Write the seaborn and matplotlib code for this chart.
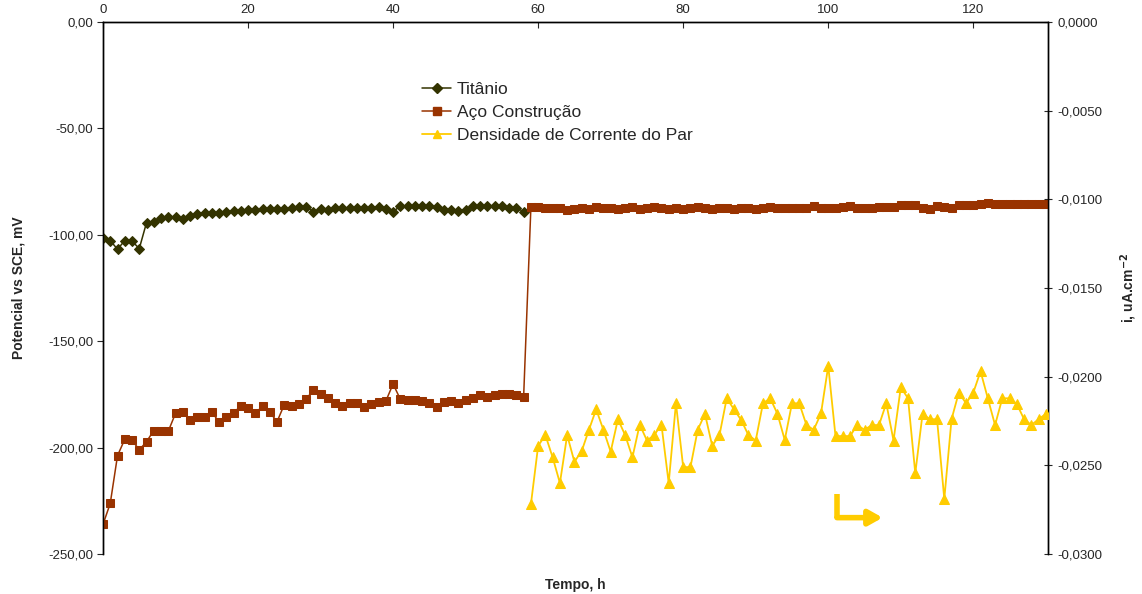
import numpy as np
import pandas as pd
import matplotlib
matplotlib.use("Agg")
import matplotlib.pyplot as plt
from matplotlib.ticker import FuncFormatter, MultipleLocator
from matplotlib.lines import Line2D
import seaborn as sns

sns.set_style("white")
plt.rcParams['font.family'] = ['Liberation Sans', 'DejaVu Sans']

# ---------------- data ----------------
t_titanio = list(range(0, 59))
titanio = [-101.7, -102.7, -106.8, -102.7, -102.9, -106.5, -94.3, -93.8, -92.3, -91.8,
           -91.8, -92.6, -91.2, -90.2, -89.6, -89.6, -89.6, -89.3, -88.8, -88.6,
           -88.3, -88.3, -88.0, -88.0, -87.8, -87.7, -87.4, -87.0, -86.8, -89.1,
           -88.0, -88.3, -87.6, -87.6, -87.6, -87.6, -87.4, -87.2, -86.8, -88.0,
           -89.1, -86.5, -86.5, -86.5, -86.5, -86.5, -86.8, -88.3, -88.3, -88.8,
           -88.3, -86.5, -86.5, -86.5, -86.5, -86.5, -87.3, -87.3, -89.1]

t_aco = list(range(0, 131))
aco = [-236.1, -226.2, -203.8, -196.1, -196.4, -201.1, -197.2, -192.0, -192.3, -192.3,
       -183.9, -183.3, -187.0, -185.8, -185.5, -183.1, -188.1, -185.8, -183.6, -180.5,
       -181.2, -183.9, -180.5, -183.4, -187.8, -179.8, -180.3, -179.7, -177.3, -172.9,
       -175.0, -176.5, -178.9, -180.3, -179.2, -179.2, -180.8, -179.7, -178.4, -178.1,
       -170.1, -177.3, -177.8, -177.6, -178.1, -179.2, -180.8, -178.4, -178.0, -178.9,
       -177.6, -176.8, -175.3, -176.0, -175.5, -175.0, -175.0, -175.3, -176.0,
       # 59..93
       -87.0, -86.8, -87.5, -87.3, -87.6, -88.3, -87.8, -87.2, -88.0, -86.9,
       -87.2, -87.5, -88.0, -87.6, -86.8, -87.7, -87.3, -87.0, -87.6, -87.8,
       -87.4, -87.9, -87.3, -87.0, -87.6, -88.1, -87.3, -87.5, -87.9, -87.2,
       -87.6, -87.8, -87.4, -87.0, -87.3,
       # 94..130
       -87.6, -87.6, -87.5, -87.4, -86.6, -87.3, -87.6, -87.5, -86.9, -86.7,
       -87.5, -87.4, -87.2, -87.1, -86.9, -86.8, -86.2, -85.9, -86.0, -87.6,
       -88.0, -86.4, -86.9, -87.2, -86.0, -86.0, -85.9, -85.6, -85.0, -85.6,
       -85.7, -85.7, -85.6, -85.7, -85.6, -85.7, -85.6]

t_corr = list(range(59, 131))
corrente = [-0.0272, -0.0239, -0.0233, -0.02455, -0.0260, -0.0233, -0.0248, -0.0242, -0.0230, -0.02184,
            -0.0230, -0.02423, -0.0224, -0.0233, -0.02455, -0.0227, -0.0236, -0.0233, -0.0227, -0.0260,
            -0.0215, -0.0251, -0.0251, -0.0230, -0.0221, -0.0239, -0.0233, -0.02122, -0.02184, -0.02245,
            -0.0233, -0.0236, -0.0215, -0.02122, -0.0221, -0.02357,
            -0.0215, -0.0215, -0.02273, -0.0230, -0.02207, -0.0194, -0.02335, -0.02335, -0.02335, -0.02273,
            -0.0230, -0.02273, -0.02273, -0.0215, -0.0236, -0.0206, -0.02122, -0.02545, -0.0221, -0.0224,
            -0.0224, -0.0269, -0.0224, -0.0209, -0.0215, -0.0209, -0.0197, -0.02122, -0.02273, -0.02122,
            -0.02122, -0.02154, -0.0224, -0.02273, -0.0224, -0.0221]

x_ticks = [0, 20, 40, 60, 80, 100, 120]

df_ti = pd.DataFrame({"Tempo": t_titanio, "Potencial": titanio})
df_aco = pd.DataFrame({"Tempo": t_aco, "Potencial": aco})
df_i = pd.DataFrame({"Tempo": t_corr, "i": corrente})

c_ti = "#333300"
c_aco = "#993300"
c_i = "#FFCC00"

fig = plt.figure(figsize=(11.42, 5.94), dpi=100)
ax = fig.add_axes([103/1142, 1-554/594, (1048-103)/1142, (554-22)/594])
ax2 = ax.twinx()

sns.lineplot(data=df_ti, x="Tempo", y="Potencial", ax=ax, color=c_ti, marker="D",
             markersize=5.5, markeredgecolor=c_ti, linewidth=1.1, zorder=3)
sns.lineplot(data=df_aco, x="Tempo", y="Potencial", ax=ax, color=c_aco, marker="s",
             markersize=6, markeredgecolor=c_aco, linewidth=1.1, zorder=4)
sns.lineplot(data=df_i, x="Tempo", y="i", ax=ax2, color=c_i, marker="^",
             markersize=6.5, markeredgecolor=c_i, linewidth=1.3, zorder=3)

ax.set_xlim(0, 130.3)
ax.set_ylim(-250, 0)
ax2.set_ylim(-0.03, 0)

ax.xaxis.tick_top()
ax.xaxis.set_label_position("bottom")
ax.set_xticks(x_ticks)
ax.set_xticklabels([str(v) for v in x_ticks])
ax.yaxis.set_major_locator(MultipleLocator(50))
ax.yaxis.set_major_formatter(FuncFormatter(lambda v, p: f"{v:.2f}".replace(".", ",")))
ax2.yaxis.set_major_locator(MultipleLocator(0.005))
ax2.yaxis.set_major_formatter(FuncFormatter(lambda v, p: f"{v:.4f}".replace(".", ",").replace("-0,0000", "0,0000")))

for a in (ax, ax2):
    a.spines['bottom'].set_visible(False)
    for s in ('top', 'left', 'right'):
        a.spines[s].set_color("black")
        a.spines[s].set_linewidth(1.0)

ax.tick_params(axis='x', which='both', direction='in', length=4, labelsize=9.5, pad=4,
               top=True, bottom=False, labeltop=True, labelbottom=False)
ax.tick_params(axis='y', direction='out', length=4, labelsize=9.5, left=True, pad=3)
ax2.tick_params(axis='y', direction='inout', length=6, labelsize=9.5, right=True, pad=4)

ax.set_xlabel("Tempo, h", fontsize=10, fontweight="bold", labelpad=17)
ax.set_ylabel("Potencial vs SCE, mV", fontsize=10, fontweight="bold", labelpad=16)
ax2.set_ylabel("i, uA.cm$^{\\mathbf{-2}}$", fontsize=10, fontweight="bold", labelpad=11)
ax.grid(False)
ax2.grid(False)

# arrow indicating right axis for current density
ax2.annotate("", xy=(107.5, -0.02795), xytext=(101.2, -0.02795),
             xycoords="data",
             arrowprops=dict(arrowstyle="-|>,head_length=0.8,head_width=0.45",
                             color=c_i, lw=4, shrinkA=0, shrinkB=0))
ax2.plot([101.2, 101.2], [-0.0266, -0.02795], color=c_i, lw=4, solid_capstyle="butt")

handles = [
    Line2D([], [], color=c_ti, marker="D", markersize=5, linewidth=1.1, label="Titânio"),
    Line2D([], [], color=c_aco, marker="s", markersize=5.5, linewidth=1.1, label="Aço Construção"),
    Line2D([], [], color=c_i, marker="^", markersize=6, linewidth=1.3, label="Densidade de Corrente do Par"),
]
ax.legend(handles=handles, loc="upper left", bbox_to_anchor=(0.3375, 0.888), frameon=False,
          fontsize=12.5, handlelength=1.7, handletextpad=0.3, labelspacing=0.47,
          borderaxespad=0, borderpad=0)
if ax2.get_legend():
    ax2.get_legend().remove()

fig.savefig("out.png", dpi=100)
